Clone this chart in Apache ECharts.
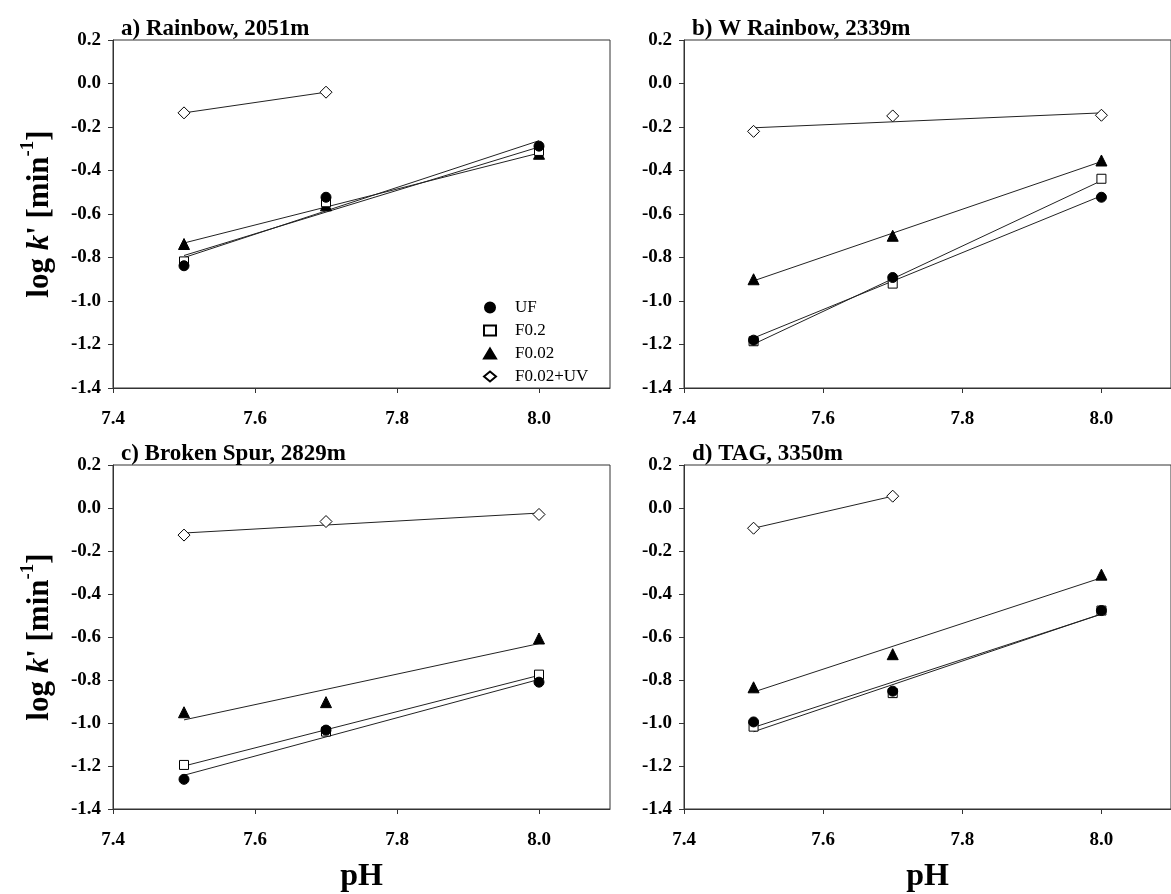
<!DOCTYPE html>
<html>
<head>
<meta charset="utf-8">
<script src="https://cdn.jsdelivr.net/npm/echarts@6/dist/echarts.min.js"></script>
<style>
html,body{margin:0;padding:0;background:#fff;}
#chart{width:1171px;height:894px;}
</style>
</head>
<body>
<div id="chart"></div>
<script>
// ---- data ----
const pH = [7.5, 7.7, 8.0];
const panelTitles = ['a) Rainbow, 2051m', 'b) W Rainbow, 2339m', 'c) Broken Spur, 2829m', 'd) TAG, 3350m'];
const seriesNames = ['UF', 'F0.2', 'F0.02', 'F0.02+UV'];
// log k' values per panel (a, b, c, d) at pH 7.5, 7.7, 8.0
const UF     = [[-0.838, -0.523, -0.288], [-1.180, -0.892, -0.523], [-1.262, -1.033, -0.810], [-0.995, -0.852, -0.477]];
const F0_2   = [[-0.818, -0.546, -0.310], [-1.185, -0.920, -0.438], [-1.195, -1.040, -0.775], [-1.017, -0.861, -0.477]];
const F0_02  = [[-0.738, -0.560, -0.323], [-0.900, -0.700, -0.354], [-0.950, -0.903, -0.607], [-0.834, -0.680, -0.310]];
const F0_02UV= [[-0.135, -0.040, null],   [-0.220, -0.149, -0.146], [-0.126, -0.063, -0.030], [-0.094, 0.055, null]];
const xTicks = [7.4, 7.6, 7.8, 8.0];

// ---- layout ----
const grids = [
  {left: 113, top: 40, width: 497, height: 348},
  {left: 684, top: 40, width: 497, height: 348},
  {left: 113, top: 465, width: 497, height: 348},
  {left: 684, top: 465, width: 497, height: 348}
];
const FONT = '"Liberation Serif", "DejaVu Serif", serif';
const styles = [
  {symbol: 'circle', size: 10, color: '#000', border: '#000'},
  {symbol: 'rect', size: 9, color: '#fff', border: '#000'},
  {symbol: 'triangle', size: 11, color: '#000', border: '#000'},
  {symbol: 'diamond', size: 12, color: '#fff', border: '#000'}
];
const allData = [UF, F0_2, F0_02, F0_02UV];

// least-squares regression line over the data range (as in the original figure)
function fit(xs, ys) {
  const pts = [];
  xs.forEach((x, i) => { if (ys[i] !== null && ys[i] !== undefined) pts.push([x, ys[i]]); });
  const n = pts.length;
  const mx = pts.reduce((s, p) => s + p[0], 0) / n;
  const my = pts.reduce((s, p) => s + p[1], 0) / n;
  let sxy = 0, sxx = 0;
  pts.forEach(p => { sxy += (p[0] - mx) * (p[1] - my); sxx += (p[0] - mx) * (p[0] - mx); });
  const b = sxy / sxx, a = my - b * mx;
  const x0 = pts[0][0], x1 = pts[n - 1][0];
  return [[x0, a + b * x0], [x1, a + b * x1]];
}

const xAxes = [], yAxes = [], series = [], titles = [];
grids.forEach((g, gi) => {
  const bottom = gi >= 2;
  const left = gi % 2 === 0;
  xAxes.push({
    gridIndex: gi, type: 'value', min: 7.4, max: 8.1, interval: 0.2,
    splitLine: {show: false},
    axisLine: {show: true, onZero: false, lineStyle: {color: '#333', width: 1}},
    axisTick: {show: true, length: 5, inside: false, customValues: xTicks, lineStyle: {color: '#333'}},
    axisLabel: {customValues: xTicks, margin: 22, color: '#000', fontFamily: FONT, fontWeight: 'bold', fontSize: 19,
      formatter: v => v.toFixed(1)},
    name: bottom ? 'pH' : '', nameLocation: 'middle', nameGap: 52,
    nameTextStyle: {fontFamily: FONT, fontWeight: 'bold', fontSize: 32, color: '#000'}
  });
  yAxes.push({
    gridIndex: gi, type: 'value', min: -1.4, max: 0.2, interval: 0.2,
    splitLine: {show: false},
    axisLine: {show: true, onZero: false, lineStyle: {color: '#333', width: 1}},
    axisTick: {show: true, length: 5, inside: false, lineStyle: {color: '#333'}},
    axisLabel: {margin: 12, color: '#000', fontFamily: FONT, fontWeight: 'bold', fontSize: 19,
      formatter: v => v.toFixed(1)},
    name: left ? "{n|log }{k|k}{n|' [min}{s|-1}{n|]}" : '', nameLocation: 'middle', nameGap: 58, nameRotate: 90,
    nameTextStyle: {
      fontFamily: FONT, fontWeight: 'bold', fontSize: 31, color: '#000',
      rich: {
        n: {fontFamily: FONT, fontWeight: 'bold', fontSize: 31, color: '#000', verticalAlign: 'bottom', lineHeight: 36},
        k: {fontFamily: FONT, fontWeight: 'bold', fontStyle: 'italic', fontSize: 31, color: '#000', verticalAlign: 'bottom', lineHeight: 36},
        s: {fontFamily: FONT, fontWeight: 'bold', fontSize: 19, color: '#000', verticalAlign: 'top', lineHeight: 36}
      }
    }
  });
  titles.push({
    text: panelTitles[gi], left: g.left + 3, top: g.top - 27,
    textStyle: {fontFamily: FONT, fontWeight: 'bold', fontSize: 23, color: '#000'}
  });
  seriesNames.forEach((nm, si) => {
    const ys = allData[si][gi];
    const st = styles[si];
    series.push({
      type: 'line', name: nm + ' fit', xAxisIndex: gi, yAxisIndex: gi,
      data: fit(pH, ys), showSymbol: false, symbol: 'none', silent: true,
      lineStyle: {color: '#222', width: 1}, z: 2
    });
    series.push({
      type: 'scatter', name: nm, xAxisIndex: gi, yAxisIndex: gi,
      data: pH.map((x, i) => [x, ys[i]]).filter(p => p[1] !== null),
      symbol: st.symbol, symbolSize: st.size,
      itemStyle: {color: st.color, borderColor: st.border, borderWidth: 1, opacity: 1}, z: 3 + (3 - si)
    });
  });
});

const chart = echarts.init(document.getElementById('chart'), null, {renderer: 'canvas'});
chart.setOption({
  backgroundColor: '#fff',
  animation: false,
  title: titles,
  grid: grids.map(g => Object.assign({show: true, borderColor: '#333', borderWidth: 1, backgroundColor: 'transparent'}, g)),
  xAxis: xAxes,
  yAxis: yAxes,
  legend: {
    data: seriesNames, orient: 'vertical', left: 478, top: 294, itemGap: 6,
    itemWidth: 12, itemHeight: 10, selectedMode: false,
    textStyle: {fontFamily: FONT, fontSize: 17, color: '#000', padding: [0, 0, 0, 14]}
  },
  series: series
});
</script>
</body>
</html>
